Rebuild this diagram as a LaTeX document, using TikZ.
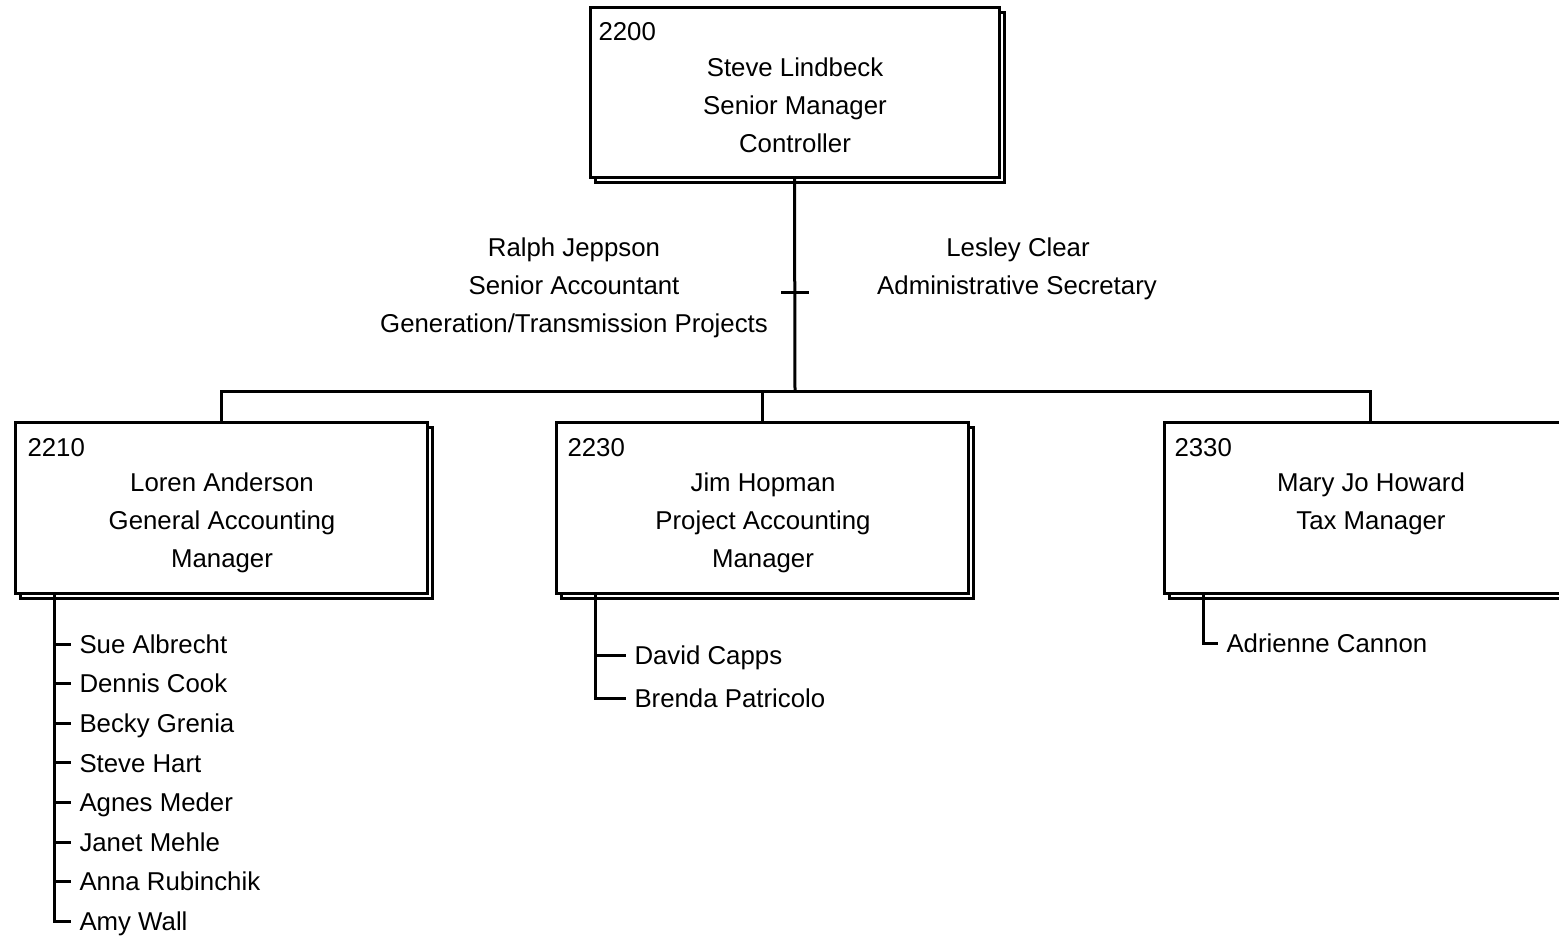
\documentclass[tikz,border=0pt]{standalone}
\usepackage{fontspec}
\setmainfont{Liberation Sans}
\usetikzlibrary{shadows}
\begin{document}
\begin{tikzpicture}[x=0.5pt,y=-0.5pt,line width=1.5pt,
  every node/.style={font=\fontsize{12.9}{15}\selectfont,text height=9.2pt,text depth=0pt,inner sep=0pt},
  orgbox/.style={draw,fill=white,line width=1.5pt,minimum width=206pt,minimum height=85.5pt,
    copy shadow={shadow xshift=2.7pt,shadow yshift=-2.7pt,line width=1.5pt}},
  numlabel/.style={anchor=west},
  sub/.style={anchor=west,inner xsep=3.5pt}]
\useasboundingbox (0,0) rectangle (1559,938);

% boxes
\node[orgbox,minimum width=204.5pt,minimum height=85pt] (top) at (794.5,92) {};
\node[orgbox] (b10) at (221,507.5) {};
\node[orgbox] (b23) at (762,507.5) {};
\node[orgbox] (b30) at (1370,507.5) {};

% box texts
\node[numlabel] (topnum) at (597,31) {2200};
\node (topa) at (795,67) {Steve Lindbeck};
\node (topb) at (795,105) {Senior Manager};
\node (topc) at (795,143) {Controller};

\node[numlabel] (b10num) at (26,447) {2210};
\node (b10a) at (222,482) {Loren Anderson};
\node (b10b) at (222,520) {General Accounting};
\node (b10c) at (222,558) {Manager};

\node[numlabel] (b23num) at (566,447) {2230};
\node (b23a) at (763,482) {Jim Hopman};
\node (b23b) at (763,520) {Project Accounting};
\node (b23c) at (763,558) {Manager};

\node[numlabel] (b30num) at (1173,447) {2330};
\node (b30a) at (1371,482) {Mary Jo Howard};
\node (b30b) at (1371,520) {Tax Manager};

% assistants
\node (asl1) at (574,247) {Ralph Jeppson};
\node (asl2) at (574,285) {Senior Accountant};
\node (asl3) at (574,323) {Generation/Transmission Projects};
\node (asr1) at (1018,247) {Lesley Clear};
\node (asr2) at (1017,285) {Administrative Secretary};

% connectors
\coordinate (bus) at (795,391);
\coordinate (asst) at (795,292);
\draw (top.south) -- (bus);
\draw (b10.north) |- (bus) -| (b30.north);
\draw (b23.north) -- (b23.north |- bus);
\draw ([xshift=-7pt]asst) -- ([xshift=7pt]asst);

% subordinates of 2210
\coordinate (s10) at ([xshift=20.5pt]b10.south west);
\node[sub] (n10a) at (71,644) {Sue Albrecht};
\node[sub] (n10b) at (71,683.6) {Dennis Cook};
\node[sub] (n10c) at (71,723.2) {Becky Grenia};
\node[sub] (n10d) at (71,762.8) {Steve Hart};
\node[sub] (n10e) at (71,802.4) {Agnes Meder};
\node[sub] (n10f) at (71,842) {Janet Mehle};
\node[sub] (n10g) at (71,881.6) {Anna Rubinchik};
\node[sub] (n10h) at (71,921.2) {Amy Wall};
\draw (s10) |- (n10h.west);
\foreach \n in {a,b,c,d,e,f,g}{\draw (s10 |- n10\n.west) -- (n10\n.west);}

% subordinates of 2230
\coordinate (s23) at ([xshift=20.5pt]b23.south west);
\node[sub] (n23a) at (626,655) {David Capps};
\node[sub] (n23b) at (626,698) {Brenda Patricolo};
\draw (s23) |- (n23b.west);
\draw (s23 |- n23a.west) -- (n23a.west);

% subordinates of 2330
\coordinate (s30) at ([xshift=20.5pt]b30.south west);
\node[sub] (n30a) at (1218,643) {Adrienne Cannon};
\draw (s30) |- (n30a.west);
\end{tikzpicture}
\end{document}
